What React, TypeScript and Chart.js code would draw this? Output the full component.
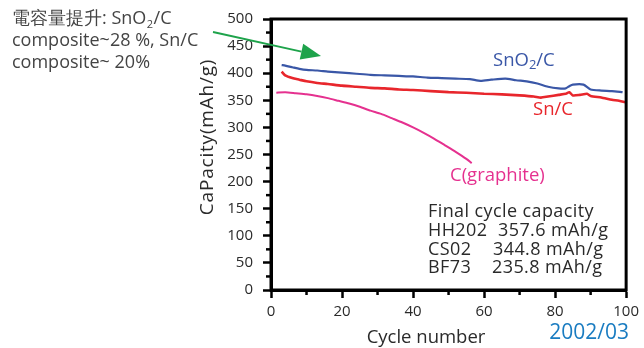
import React, { useEffect, useRef } from "react";
import { Chart, registerables } from "chart.js";

Chart.register(...registerables);

// ---- data ----
const sno2Cycles = [3, 4, 6, 8, 10, 13, 16, 20, 24, 28, 32, 36, 40, 44, 48, 52, 56, 59, 62, 66, 69, 72, 75, 78, 81, 83, 84, 85, 88, 90, 93, 96, 99];
const sno2Values = [415, 414, 411, 408, 406, 405, 403, 401, 399, 397, 396, 395, 394, 392, 391, 390, 389, 386, 388, 390, 387, 385, 381, 375, 372, 372, 376, 379, 379, 370, 368, 367, 365];

const snCycles = [3, 4, 6, 8, 10, 13, 16, 20, 24, 28, 32, 36, 40, 45, 50, 55, 60, 65, 70, 74, 76, 78, 81, 83, 84, 85, 87, 89, 90, 93, 96, 98, 100];
const snValues = [403, 396, 391, 388, 385, 382, 380, 377, 375, 373, 372, 370, 369, 367, 365, 364, 362, 361, 359, 357, 355, 357, 360, 362, 365, 359, 360, 362, 358, 355, 351, 349, 346];

const graphiteCycles = [1.5, 4, 7, 10, 13, 16, 19, 22, 25, 28, 31, 34, 37, 40, 43, 46, 49, 52, 55, 56.5];
const graphiteValues = [364, 365, 363, 361, 358, 354, 349, 344, 338, 331, 325, 317, 309, 300, 290, 279, 267, 255, 242, 234];

const yTicks = [0, 50, 100, 150, 200, 250, 300, 350, 400, 450, 500];
const xTicks = [0, 20, 40, 60, 80, 100];

const seriesLabels = ["SnO2/C", "Sn/C", "C(graphite)"];
const annotationLines = ["電容量提升: SnO", "composite~28 %, Sn/C", "composite~ 20%"];
const finalTitle = "Final cycle capacity";
const finalNames = ["HH202", "CS02", "BF73"];
const finalValues = ["357.6 mAh/g", "344.8 mAh/g", "235.8 mAh/g"];
const xTitle = "Cycle number";
const yTitle = "CaPacity(mAh/g)";
const dateNote = "2002/03";

const FONT = "'Open Sans', 'Noto Sans', sans-serif";
const BLUE = "#3a57a7";
const RED = "#e8262c";
const PINK = "#e5318f";
const GREEN = "#1ea34b";
const TEXT = "#2a2a2a";

const toPts = (xs: number[], ys: number[]) => xs.map((x, i) => ({ x, y: ys[i] }));

const decorPlugin = {
  id: "decor",
  afterDraw(chart: any) {
    const { ctx, chartArea: a, scales } = chart;
    const xs = scales.x;
    const ys = scales.y;
    ctx.save();
    // frame
    ctx.strokeStyle = "#000";
    ctx.lineWidth = 3;
    ctx.strokeRect(a.left, a.top, a.right - a.left, a.bottom - a.top);
    // minor ticks
    ctx.lineWidth = 2.5;
    for (let v = 25; v < 500; v += 50) {
      const y = ys.getPixelForValue(v);
      ctx.beginPath();
      ctx.moveTo(a.left - 5, y);
      ctx.lineTo(a.left, y);
      ctx.stroke();
    }
    for (let v = 10; v < 100; v += 20) {
      const x = xs.getPixelForValue(v);
      ctx.beginPath();
      ctx.moveTo(x, a.bottom);
      ctx.lineTo(x, a.bottom + 5);
      ctx.stroke();
    }

    // y title
    ctx.fillStyle = TEXT;
    ctx.textAlign = "center";
    ctx.textBaseline = "middle";
    ctx.save();
    ctx.font = `19px ${FONT}`;
    (ctx as any).letterSpacing = "0.8px";
    ctx.translate(208, 137);
    ctx.rotate(-Math.PI / 2);
    ctx.fillText(yTitle, 0, 0);
    ctx.restore();

    // x title
    ctx.font = `18.5px ${FONT}`;
    ctx.fillText(xTitle, 426, 338);

    // date
    ctx.fillStyle = "#1a7cc1";
    ctx.font = `21px ${FONT}`;
    ctx.textAlign = "right";
    ctx.fillText(dateNote, 629, 333);

    // annotation
    ctx.fillStyle = "#444";
    ctx.font = `18px ${FONT}`;
    ctx.textAlign = "left";
    const x0 = 12;
    ctx.fillText(annotationLines[0], x0, 19);
    let w = ctx.measureText(annotationLines[0]).width;
    ctx.font = `11px ${FONT}`;
    ctx.fillText("2", x0 + w + 0.5, 25);
    const w2 = ctx.measureText("2").width;
    ctx.font = `18px ${FONT}`;
    ctx.fillText("/C", x0 + w + w2 + 1, 19);
    ctx.fillText(annotationLines[1], x0, 41);
    ctx.fillText(annotationLines[2], x0, 63);

    // green arrow
    const sx = 213, sy = 32, tx = 321, ty = 56;
    const ang = Math.atan2(ty - sy, tx - sx);
    const hl = 20, hw = 8;
    const bx = tx - hl * Math.cos(ang), by = ty - hl * Math.sin(ang);
    ctx.strokeStyle = GREEN;
    ctx.fillStyle = GREEN;
    ctx.lineWidth = 1.8;
    ctx.beginPath();
    ctx.moveTo(sx, sy);
    ctx.lineTo(bx, by);
    ctx.stroke();
    ctx.beginPath();
    ctx.moveTo(tx, ty);
    ctx.lineTo(bx + hw * Math.sin(ang), by - hw * Math.cos(ang));
    ctx.lineTo(bx - hw * Math.sin(ang), by + hw * Math.cos(ang));
    ctx.closePath();
    ctx.fill();

    // series labels
    ctx.font = `18.5px ${FONT}`;
    ctx.textAlign = "left";
    ctx.fillStyle = BLUE;
    ctx.fillText("SnO", 493, 61);
    w = ctx.measureText("SnO").width;
    ctx.font = `13px ${FONT}`;
    ctx.fillText("2", 493 + w, 65);
    const w3 = ctx.measureText("2").width;
    ctx.font = `18.5px ${FONT}`;
    ctx.fillText("/C", 493 + w + w3, 61);

    ctx.fillStyle = RED;
    ctx.fillText(seriesLabels[1], 533, 110);
    ctx.fillStyle = PINK;
    ctx.fillText(seriesLabels[2], 450, 176);

    // final capacity block
    ctx.fillStyle = TEXT;
    ctx.font = `18px ${FONT}`;
    (ctx as any).letterSpacing = "0.4px";
    ctx.fillText(finalTitle, 428, 212);
    const valX = [498, 493, 492];
    const rowY = [231, 250, 268];
    finalNames.forEach((n, i) => {
      ctx.fillText(n, 428, rowY[i]);
      ctx.fillText(finalValues[i], valX[i], rowY[i]);
    });
    (ctx as any).letterSpacing = "0px";
    ctx.restore();
  },
};

export default function App() {
  const ref = useRef<HTMLCanvasElement | null>(null);
  useEffect(() => {
    if (!ref.current) return;
    const mk = (xs: number[], ys: number[], color: string, label: string, bw: number) => ({
      label,
      data: toPts(xs, ys),
      borderColor: color,
      backgroundColor: color,
      borderWidth: bw,
      pointRadius: 0,
      tension: 0.2,
    });
    const chart = new Chart(ref.current, {
      type: "line",
      data: {
        datasets: [
          mk(sno2Cycles, sno2Values, BLUE, seriesLabels[0], 2.2),
          mk(snCycles, snValues, RED, seriesLabels[1], 2.6),
          mk(graphiteCycles, graphiteValues, PINK, seriesLabels[2], 2),
        ],
      },
      plugins: [decorPlugin],
      options: {
        animation: false,
        responsive: false,
        events: [],
        layout: { padding: { top: 13, right: 17, left: 0, bottom: 0 } },
        plugins: { legend: { display: false }, tooltip: { enabled: false } },
        scales: {
          x: {
            type: "linear",
            min: 0,
            max: 100,
            afterBuildTicks: (s: any) => {
              s.ticks = xTicks.map((v) => ({ value: v }));
            },
            afterFit: (s: any) => {
              s.height = 58;
            },
            ticks: { color: TEXT, font: { family: FONT, size: 15 }, padding: 5 },
            grid: { drawOnChartArea: false, tickLength: 8, tickWidth: 2.5, color: "#000" },
            border: { display: true, color: "#000", width: 3 },
          },
          y: {
            min: 0,
            max: 500,
            afterBuildTicks: (s: any) => {
              s.ticks = yTicks.map((v) => ({ value: v }));
            },
            afterFit: (s: any) => {
              s.width = 271;
            },
            ticks: { color: TEXT, font: { family: FONT, size: 15 }, padding: 10 },
            grid: { drawOnChartArea: false, tickLength: 8, tickWidth: 2.5, color: "#000" },
            border: { display: true, color: "#000", width: 3 },
          },
        },
      },
    });
    return () => chart.destroy();
  }, []);
  return (
    <div style={{ position: "fixed", left: 0, top: 0, width: 644, height: 348, background: "#fff" }}>
      <canvas ref={ref} width={644} height={348} style={{ width: 644, height: 348 }} />
    </div>
  );
}
